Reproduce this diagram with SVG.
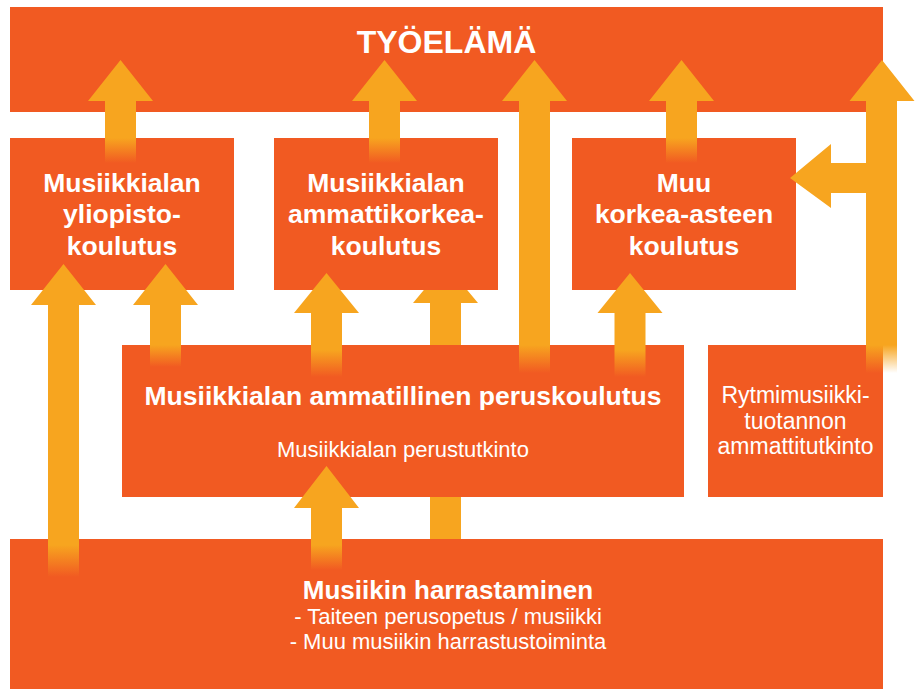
<svg xmlns="http://www.w3.org/2000/svg" width="918" height="689" viewBox="0 0 918 689">
<defs>
<linearGradient id="fade" x1="0" y1="0" x2="0" y2="1">
<stop offset="0" stop-color="#F7A51F" stop-opacity="1"/>
<stop offset="1" stop-color="#F7A51F" stop-opacity="0"/>
</linearGradient>
<style>
.box{fill:#F15A22}
.arr{fill:#F7A51F}
.fd{fill:url(#fade)}
.t{font-family:"Liberation Sans",Arial,sans-serif;fill:#fff;text-anchor:middle}
.b{font-weight:bold;font-size:26.5px}
.r{font-size:23px}
</style>
</defs>
<rect width="918" height="689" fill="#fff"/>
<!-- arrow behind middle box -->
<g id="connectors-back">
<path class="arr" d="M445.5,264 L478,303 L461,303 L461,539 L430,539 L430,303 L413,303 Z"/>
</g>
<g id="tyoelama"><rect class="box" x="10" y="7" width="873" height="105"/>
<text class="t" x="446.5" y="53" font-weight="bold" font-size="32">TYÖELÄMÄ</text></g>
<g id="yliopisto"><rect class="box" x="10" y="138" width="224" height="152"/>
<text class="t b" x="122" y="192">Musiikkialan</text>
<text class="t b" x="122" y="223">yliopisto-</text>
<text class="t b" x="122" y="255">koulutus</text></g>
<g id="amk"><rect class="box" x="274" y="138" width="224" height="152"/>
<text class="t b" x="386" y="192">Musiikkialan</text>
<text class="t b" x="386" y="223">ammattikorkea-</text>
<text class="t b" x="386" y="255">koulutus</text></g>
<g id="muu"><rect class="box" x="572" y="138" width="224" height="152"/>
<text class="t b" x="684" y="192">Muu</text>
<text class="t b" x="684" y="223">korkea-asteen</text>
<text class="t b" x="684" y="255">koulutus</text></g>
<g id="ammatillinen"><rect class="box" x="122" y="345" width="562" height="152"/>
<text class="t b" x="403" y="405">Musiikkialan ammatillinen peruskoulutus</text>
<text class="t" x="403" y="457" font-size="22">Musiikkialan perustutkinto</text></g>
<g id="rytmi"><rect class="box" x="708" y="345" width="175" height="152"/>
<text class="t r" x="795.5" y="403">Rytmimusiikki-</text>
<text class="t r" x="795.5" y="429">tuotannon</text>
<text class="t r" x="795.5" y="454">ammattitutkinto</text></g>
<g id="harrastaminen"><rect class="box" x="10" y="539" width="873" height="150"/>
<text class="t" x="448" y="599" font-weight="bold" font-size="26">Musiikin harrastaminen</text>
<text class="t" x="448" y="624" font-size="22">- Taiteen perusopetus / musiikki</text>
<text class="t" x="448" y="649" font-size="22">- Muu musiikin harrastustoiminta</text></g>
<g id="connectors">
<path class="arr" d="M120.5,60 L153,101 L136,101 L136,138 L105,138 L105,101 L88,101 Z"/>
<rect class="fd" x="105" y="138" width="31" height="25"/>
<path class="arr" d="M384.5,60 L417,101 L400,101 L400,138 L369,138 L369,101 L352,101 Z"/>
<rect class="fd" x="369" y="138" width="31" height="25"/>
<path class="arr" d="M534.5,60 L567,101 L550,101 L550,345 L519,345 L519,101 L502,101 Z"/>
<rect class="fd" x="519" y="345" width="31" height="28"/>
<path class="arr" d="M681.5,60 L714,101 L697,101 L697,138 L666,138 L666,101 L649,101 Z"/>
<rect class="fd" x="666" y="138" width="31" height="25"/>
<path class="arr" d="M882,60 L914.5,101 L897,101 L897,345 L866,345 L866,193 L831,193 L831,208 L790,178 L831,144 L831,163 L866,163 L866,101 L849.5,101 Z"/>
<rect class="fd" x="866" y="345" width="31" height="28"/>
<path class="arr" d="M63.5,264 L96,305 L79,305 L79,545 L48,545 L48,305 L31,305 Z"/>
<rect class="fd" x="48" y="545" width="31" height="32"/>
<path class="arr" d="M165.5,264 L198,305 L181,305 L181,345 L150,345 L150,305 L133,305 Z"/>
<rect class="fd" x="150" y="345" width="31" height="22"/>
<path class="arr" d="M326.5,273 L359,313 L342,313 L342,350 L311,350 L311,313 L294,313 Z"/>
<rect class="fd" x="311" y="350" width="31" height="27"/>
<path class="arr" d="M630,273 L662.5,313 L645.5,313 L645.5,350 L614.5,350 L614.5,313 L597.5,313 Z"/>
<rect class="fd" x="614.5" y="350" width="31" height="27"/>
<path class="arr" d="M326.5,466 L359,508 L342,508 L342,545 L311,545 L311,508 L294,508 Z"/>
<rect class="fd" x="311" y="545" width="31" height="25"/>
</g>
</svg>
